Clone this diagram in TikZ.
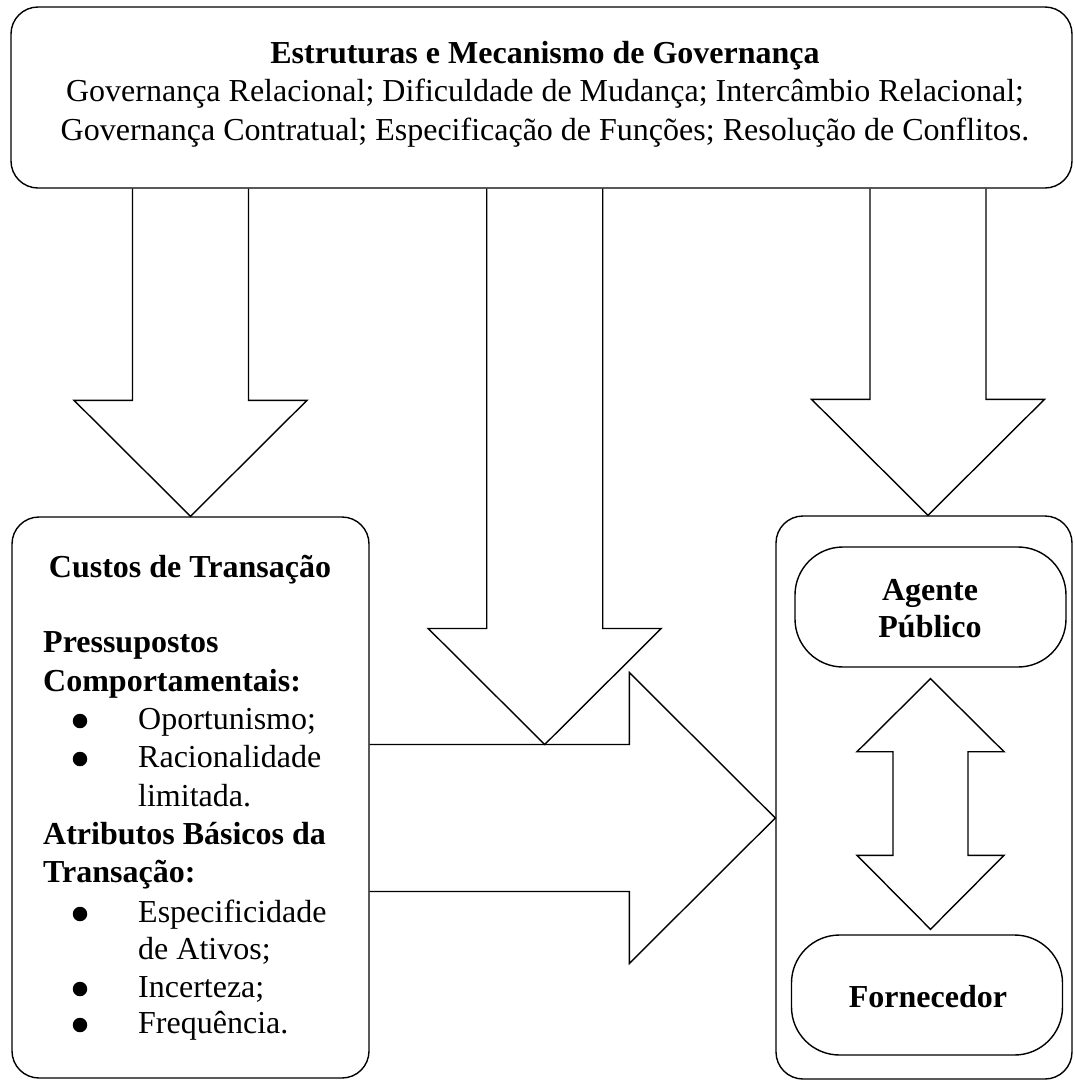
\documentclass[tikz,border=0pt]{standalone}
\usepackage{fontspec}
\setmainfont{Liberation Serif}
\usetikzlibrary{calc}

% block arrow pointing down: #1 root on the upper frame, #2 tip
\newcommand{\downblock}[2]{%
    \draw[blk] ($(#1)+(-58,0)$) -- ($(#2)+(-58,-116)$) -- ($(#2)+(-116.5,-116)$) -- (#2)
        -- ($(#2)+(116.5,-116)$) -- ($(#2)+(58,-116)$) -- ($(#1)+(58,0)$);}

\begin{document}
\begin{tikzpicture}[
        x=1pt, y=-1pt,
        thinline/.style={line width=1.4pt},
    ]
    % frames and pills
    \tikzstyle{frame}=[draw, thinline, rounded corners=27pt, inner sep=0]
    \tikzstyle{pill}=[draw, thinline, rounded corners=48pt, inner sep=0, minimum width=271pt, minimum height=120pt]
    % text lines
    \tikzstyle{txt}=[inner sep=0, font=\fontsize{32}{38}\selectfont]
    \tikzstyle{hd}=[inner sep=0, font=\fontsize{32}{38}\selectfont\bfseries]
    % list bullets
    \tikzstyle{dot}=[circle, fill=black, inner sep=0, minimum size=14.5pt]
    \tikzstyle{blk}=[draw, thinline, line join=miter]
    \useasboundingbox (0,0) rectangle (1074,1082);
    \node[frame, minimum width=1061pt, minimum height=181pt] (GOV) at (541.5,97.5) {};
    \node[frame, minimum width=357pt, minimum height=561pt] (CT) at (190.5,797.5) {};
    \node[frame, minimum width=296pt, minimum height=563pt] (PA) at (924,797.5) {};
    \node[pill] (AG) at (930.5,607) {};
    \node[pill] (FO) at (927,995) {};
    % governance text
    \node[hd, anchor=base] (GOV0) at (545,63) {Estruturas e Mecanismo de Governança};
    \node[txt, anchor=base] (GOV1) at ($(GOV0.base)+(0,38.5)$) {Governança Relacional; Dificuldade de Mudança; Intercâmbio Relacional;};
    \node[txt, anchor=base] (GOV2) at ($(GOV1.base)+(0,38.5)$) {Governança Contratual; Especificação de Funções; Resolução de Conflitos.};
    % transaction costs text
    \node[hd, anchor=base] (CT0) at (190,577) {Custos de Transação};
    \node[hd, anchor=base west] (PC1) at (43,652) {Pressupostos};
    \node[hd, anchor=base west] (PC2) at ($(PC1.base west)+(0,39)$) {Comportamentais:};
    \node[txt, anchor=base west] (PC3) at ($(PC2.base west)+(95,38)$) {Oportunismo;};
    \node[txt, anchor=base west] (PC4) at ($(PC3.base west)+(0,38)$) {Racionalidade};
    \node[txt, anchor=base west] (PC5) at ($(PC4.base west)+(0,39)$) {limitada.};
    \node[hd, anchor=base west] (AT1) at ($(PC2.base west)+(0,153)$) {Atributos Básicos da};
    \node[hd, anchor=base west] (AT2) at ($(AT1.base west)+(0,38)$) {Transação:};
    \node[txt, anchor=base west] (AT3) at ($(AT2.base west)+(95,40)$) {Especificidade};
    \node[txt, anchor=base west] (AT4) at ($(AT3.base west)+(0,37)$) {de Ativos;};
    \node[txt, anchor=base west] (AT5) at ($(AT4.base west)+(0,38)$) {Incerteza;};
    \node[txt, anchor=base west] (AT6) at ($(AT5.base west)+(0,36)$) {Frequência.};
    \node[dot] (B1) at ($(PC3.base west)+(-58,-8)$) {};
    \node[dot] (B2) at ($(PC4.base west)+(-58,-8)$) {};
    \node[dot] (B3) at ($(AT3.base west)+(-58,-8)$) {};
    \node[dot] (B4) at ($(AT5.base west)+(-58,-8)$) {};
    \node[dot] (B5) at ($(AT6.base west)+(-58,-8)$) {};
    % parties text
    \node[hd, anchor=base] (AG1) at (930,600) {Agente};
    \node[hd, anchor=base] (AG2) at ($(AG1.base)+(0,37)$) {Público};
    \node[hd, anchor=base] (FO1) at (928,1007) {Fornecedor};
    % block arrows
    \coordinate (HT) at ($(PA.west)+(0,20.5)$);
    \coordinate (T2) at ($(CT.east |- HT)+(175,-73.5)$);
    \coordinate (T3) at ($(PA.north)+(4,0)$);
    \downblock{CT.north |- GOV.south}{CT.north}
    \downblock{T2 |- GOV.south}{T2}
    \downblock{T3 |- GOV.south}{T3}
    \draw[blk] ($(CT.east |- HT)+(0,-73.5)$) -- ($(HT)+(-146,-73.5)$) -- ($(HT)+(-146,-145.5)$) -- (HT)
        -- ($(HT)+(-146,145.5)$) -- ($(HT)+(-146,73.5)$) -- ($(CT.east |- HT)+(0,73.5)$);
    \coordinate (DT) at ($(AG.south)+(0,11)$);
    \coordinate (DB) at ($(DT |- FO.north)+(0,-5)$);
    \draw[blk] (DT) -- ($(DT)+(73.5,73)$) -- ($(DT)+(37.5,73)$) -- ($(DB)+(37.5,-74)$) -- ($(DB)+(73.5,-74)$) -- (DB)
        -- ($(DB)+(-73.5,-74)$) -- ($(DB)+(-37.5,-74)$) -- ($(DT)+(-37.5,73)$) -- ($(DT)+(-73.5,73)$) -- cycle;
\end{tikzpicture}
\end{document}
